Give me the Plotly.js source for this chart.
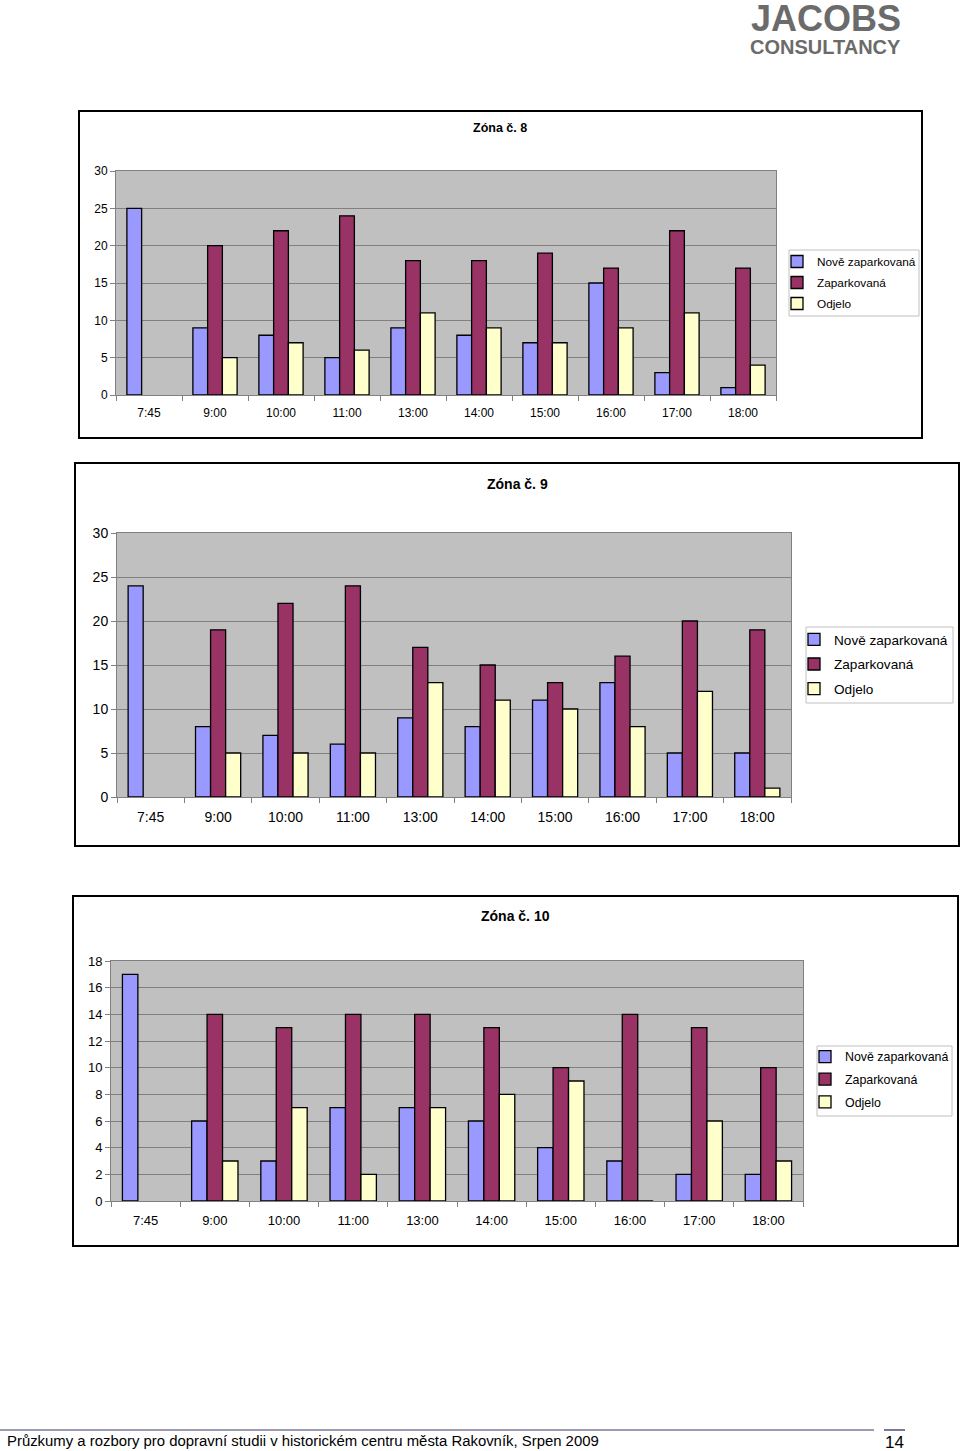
<!DOCTYPE html>
<html>
<head>
<meta charset="utf-8">
<script src="https://cdn.plot.ly/plotly-3.0.1.min.js"></script>
<style>
html,body{margin:0;padding:0;background:#fff;overflow:hidden;}
#chart{width:960px;height:1451px;}
</style>
</head>
<body>
<div id="chart"></div>
<script>
// ---- Data ----
const times = ["7:45","9:00","10:00","11:00","13:00","14:00","15:00","16:00","17:00","18:00"];
const seriesNames = ["Nově zaparkovaná","Zaparkovaná","Odjelo"];

const zone8Nove   = [25, 9, 8, 5, 9, 8, 7, 15, 3, 1];
const zone8Zapark = [null, 20, 22, 24, 18, 18, 19, 17, 22, 17];
const zone8Odjelo = [null, 5, 7, 6, 11, 9, 7, 9, 11, 4];

const zone9Nove   = [24, 8, 7, 6, 9, 8, 11, 13, 5, 5];
const zone9Zapark = [null, 19, 22, 24, 17, 15, 13, 16, 20, 19];
const zone9Odjelo = [null, 5, 5, 5, 13, 11, 10, 8, 12, 1];

const zone10Nove   = [17, 6, 3, 7, 7, 6, 4, 3, 2, 2];
const zone10Zapark = [null, 14, 13, 14, 14, 13, 10, 14, 13, 10];
const zone10Odjelo = [null, 3, 7, 2, 7, 8, 9, 0, 6, 3];

const chartTitles = ["Zóna č. 8","Zóna č. 9","Zóna č. 10"];

// ---- Styling ----
const W = 960, H = 1451;
const colors = ["#9999ff","#993366","#ffffcc"];
const px = x => x / W;
const py = y => 1 - y / H;

const charts = [
  {data:[zone8Nove,zone8Zapark,zone8Odjelo], box:[79,111,922,438], plot:[116,171,776,395], ymax:30, dtick:5,
   title:[500,128,12.5], tick:12, legBox:[789,250,919,316], legItem:260, legFont:11.8, legGap:2},
  {data:[zone9Nove,zone9Zapark,zone9Odjelo], box:[75,463,959,846], plot:[117,533,791,797], ymax:30, dtick:5,
   title:[517,484,14], tick:14, legBox:[806,627,953,703], legItem:637, legFont:13.6, legGap:4},
  {data:[zone10Nove,zone10Zapark,zone10Odjelo], box:[73,896,958,1246], plot:[111,961,803,1201], ymax:18, dtick:2,
   title:[515,916,14], tick:13, legBox:[817,1046,952,1116], legItem:1055, legFont:12.4, legGap:3.5}
];

const traces = [];
const layout = {
  width: W, height: H, autosize:false,
  margin:{l:0,r:0,t:0,b:0,pad:0},
  paper_bgcolor:"#ffffff",
  showlegend:true,
  barmode:"group",
  bargap:0.33, bargroupgap:0,
  font:{family:"Liberation Sans, Arial, sans-serif", color:"#000"},
  shapes:[], annotations:[]
};

charts.forEach((c, i) => {
  const n = i === 0 ? "" : String(i + 1);
  const xa = "x" + n, ya = "y" + n;
  const legName = "legend" + n;
  c.data.forEach((vals, s) => {
    traces.push({
      type:"bar", x: times, y: vals, name: seriesNames[s],
      xaxis: xa, yaxis: ya, legend: legName, legendgroup: "g" + i + s,
      marker:{color: colors[s], line:{color:"#000", width:1.3}},
      hoverinfo:"skip"
    });
  });
  layout["xaxis" + n] = {
    domain:[px(c.plot[0]), px(c.plot[2])], anchor: ya,
    type:"category", tickson:"boundaries", ticks:"outside", ticklen:5, tickcolor:"#808080",
    ticklabelstandoff:7,
    showline:true, linecolor:"#808080", linewidth:1, mirror:true,
    showgrid:false, tickfont:{size:c.tick, family:"Liberation Sans, Arial"}, fixedrange:true
  };
  layout["yaxis" + n] = {
    domain:[py(c.plot[3]), py(c.plot[1])], anchor: xa,
    range:[0, c.ymax], dtick:c.dtick, tick0:0,
    ticks:"outside", ticklen:5, tickcolor:"#808080",
    showline:true, linecolor:"#808080", linewidth:1, mirror:true,
    showgrid:true, gridcolor:"#808080", gridwidth:1, zeroline:false,
    tickfont:{size:c.tick, family:"Liberation Sans, Arial"}, fixedrange:true
  };
  layout[legName] = {
    x: px(c.legBox[0] - 12), y: py(c.legItem - 13), xanchor:"left", yanchor:"top",
    xref:"paper", yref:"paper",
    bgcolor:"rgba(0,0,0,0)", borderwidth:0,
    font:{size:c.legFont, family:"Liberation Sans, Arial"},
    tracegroupgap:c.legGap, itemwidth:30
  };
  layout.shapes.push({type:"rect", xref:"paper", yref:"paper",
    x0:px(c.box[0]), x1:px(c.box[2]), y0:py(c.box[3]), y1:py(c.box[1]),
    line:{color:"#000", width:2}, fillcolor:"rgba(0,0,0,0)", layer:"below"});
  layout.shapes.push({type:"rect", xref:"paper", yref:"paper",
    x0:px(c.legBox[0]), x1:px(c.legBox[2]), y0:py(c.legBox[3]), y1:py(c.legBox[1]),
    line:{color:"#c0c0c0", width:1}, fillcolor:"#ffffff", layer:"below"});
  layout.shapes.push({type:"rect", xref:xa + " domain", yref:ya + " domain",
    x0:0, x1:1, y0:0, y1:1, line:{width:0}, fillcolor:"#c0c0c0", layer:"below"});
  layout.annotations.push({text:"<b>" + chartTitles[i] + "</b>", xref:"paper", yref:"paper",
    x:px(c.title[0]), y:py(c.title[1]), xanchor:"center", yanchor:"middle", showarrow:false,
    font:{size:c.title[2], family:"Liberation Sans, Arial"}});
});

// header logo
layout.annotations.push({text:"<b>JACOBS</b>", xref:"paper", yref:"paper", x:px(903), y:py(19),
  xanchor:"right", yanchor:"middle", showarrow:false,
  font:{size:36, color:"#6b6b6b", family:"Liberation Sans, Arial"}});
layout.annotations.push({text:"<b>CONSULTANCY</b>", xref:"paper", yref:"paper", x:px(903), y:py(47),
  xanchor:"right", yanchor:"middle", showarrow:false,
  font:{size:20, color:"#6b6b6b", family:"Liberation Sans, Arial"}});

// footer
layout.shapes.push({type:"line", xref:"paper", yref:"paper", x0:px(0), x1:px(874), y0:py(1430), y1:py(1430),
  line:{color:"#7a7a98", width:1.5}});
layout.shapes.push({type:"line", xref:"paper", yref:"paper", x0:px(884), x1:px(905), y0:py(1430), y1:py(1430),
  line:{color:"#7a7a98", width:2}});
layout.annotations.push({text:"Průzkumy a rozbory pro dopravní studii v historickém centru města Rakovník, Srpen 2009",
  xref:"paper", yref:"paper", x:px(5), y:py(1441), xanchor:"left", yanchor:"middle", showarrow:false,
  font:{size:14.9, color:"#000", family:"Liberation Sans, Arial"}});
layout.annotations.push({text:"14", xref:"paper", yref:"paper", x:px(894), y:py(1442), xanchor:"center", yanchor:"middle",
  showarrow:false, font:{size:17, color:"#000", family:"Liberation Sans, Arial"}});

Plotly.newPlot("chart", traces, layout, {staticPlot:true, displayModeBar:false, responsive:false});
</script>
</body>
</html>
